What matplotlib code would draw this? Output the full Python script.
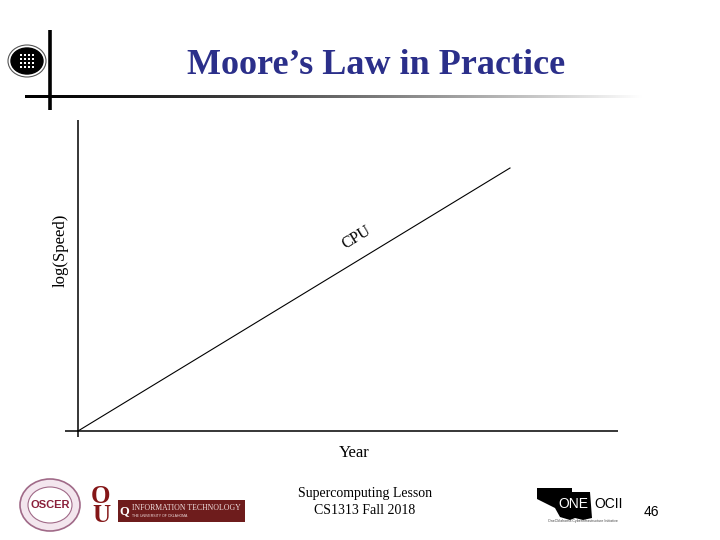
import matplotlib
matplotlib.use("Agg")
import matplotlib.pyplot as plt
import numpy as np
from matplotlib.patches import Ellipse, Rectangle, Polygon

# Data
years = [0.0, 1.0]
log_speed = [0.0, 1.0]
series_label = "CPU"
title = "Moore\u2019s Law in Practice"
xlabel = "Year"
ylabel = "log(Speed)"
footer_lines = ["Supercomputing Lesson", "CS1313 Fall 2018"]
page_number = "46"

W, H = 720, 540
fig = plt.figure(figsize=(7.2, 5.4), dpi=100)
fig.patch.set_facecolor("white")

# Overlay axes in pixel coordinates for decorations
deco = fig.add_axes([0, 0, 1, 1])
deco.set_xlim(0, W)
deco.set_ylim(H, 0)
deco.axis("off")

# Title
deco.text(376, 66, title, ha="center", va="center", fontsize=26,
          fontweight="bold", family="Liberation Serif", color="#2b2f8a")

# Gradient horizontal line (image strip)
t = np.linspace(0, 1, 400)
g = np.clip(1.05 * t ** 1.3, 0, 1)
strip = np.tile(np.stack([g, g, g], axis=-1)[None, :, :], (2, 1, 1))
deco.imshow(strip, extent=(25, 665, 98.5, 95.5), aspect="auto",
            interpolation="bilinear", zorder=1)
deco.set_xlim(0, W)
deco.set_ylim(H, 0)
# Decorative vertical line
deco.plot([50, 50], [30, 110], color="black", lw=2.6, solid_capstyle="butt", zorder=2)

# Top-left logo (approximation)
deco.add_patch(Ellipse((27, 61), 38, 32, facecolor="white", edgecolor="#555555", lw=0.8))
deco.add_patch(Ellipse((27, 61), 32, 26, facecolor="black", edgecolor="black"))
for gx in range(4):
    for gy in range(4):
        deco.add_patch(Rectangle((19.5 + gx * 4, 53.5 + gy * 4), 2.6, 2.6,
                                 facecolor="white", edgecolor="none"))

# Footer text
deco.text(365, 493, footer_lines[0], ha="center", va="center", fontsize=10,
          family="Liberation Serif", color="black")
deco.text(365, 510, footer_lines[1], ha="center", va="center", fontsize=10,
          family="Liberation Serif", color="black")
deco.text(651, 512, page_number, ha="center", va="center", fontsize=10,
          family="Liberation Sans", color="black")

# OSCER logo approximation
deco.add_patch(Ellipse((50, 505), 60, 52, facecolor="#f3e6ee", edgecolor="#a06a88", lw=1.2))
deco.add_patch(Ellipse((50, 505), 44, 36, facecolor="white", edgecolor="#a06a88", lw=0.8))
deco.text(50, 505, "OSCER", ha="center", va="center", fontsize=8,
          family="Liberation Sans", color="#8a1f3a", fontweight="bold")

# OU logo approximation
deco.text(101, 506, "O\nU", ha="center", va="center", fontsize=18, fontweight="bold",
          family="Liberation Serif", color="#841617", linespacing=0.75)

# IT box
deco.add_patch(Rectangle((118, 500), 127, 22, facecolor="#6e1c1c", edgecolor="none"))
deco.text(124, 511, "Q", ha="center", va="center", fontsize=9, color="white",
          family="Liberation Serif", fontweight="bold")
deco.text(132, 508, "INFORMATION TECHNOLOGY", ha="left", va="center", fontsize=5.6,
          color="#f0e0e0", family="Liberation Serif")
deco.text(132, 516, "THE UNIVERSITY OF OKLAHOMA", ha="left", va="center", fontsize=2.5,
          color="#f0e0e0", family="Liberation Sans")

# OneOCII logo approximation
deco.add_patch(Polygon([(537, 488), (572, 488), (572, 492), (590, 492), (592, 518),
                        (583, 520), (575, 518), (570, 520), (560, 517), (555, 508),
                        (537, 499)], closed=True, facecolor="black", edgecolor="none"))
deco.text(573, 504, "ONE", ha="center", va="center", fontsize=10, color="white",
          family="Liberation Sans")
deco.text(609, 504, "OCII", ha="center", va="center", fontsize=10, color="black",
          family="Liberation Sans")
deco.text(583, 521, "OneOklahoma Cyberinfrastructure Initiative", ha="center",
          va="center", fontsize=2.6, color="#444444", family="Liberation Sans")

# Main chart axes
x0_px, x1_px = 65, 618
y0_px, y1_px = 120, 437
ax = fig.add_axes([x0_px / W, 1 - y1_px / H, (x1_px - x0_px) / W, (y1_px - y0_px) / H])
ax.patch.set_alpha(0)
sx = 432.0
sy = 263.0
ax.set_xlim(-(78 - x0_px) / sx, (x1_px - 78) / sx)
ax.set_ylim(-(y1_px - 431) / sy, (431 - y0_px) / sy)
for sp in ax.spines.values():
    sp.set_visible(False)
ax.set_xticks([])
ax.set_yticks([])
ax.axhline(0, color="black", lw=1.1)
ax.axvline(0, color="black", lw=1.1)
ax.plot(years, log_speed, color="black", lw=0.8)

ang = np.degrees(np.arctan2(sy, sx))
ax.text(0.645, 0.735, series_label, rotation=ang, rotation_mode="anchor",
        ha="center", va="center", fontsize=11.5, family="Liberation Serif")

deco.text(354, 453, xlabel, ha="center", va="center", fontsize=12,
          family="Liberation Serif")
deco.text(61, 250, ylabel, ha="center", va="center", fontsize=12, rotation=90,
          family="Liberation Serif")

fig.savefig("out.png", dpi=100, facecolor="white")
